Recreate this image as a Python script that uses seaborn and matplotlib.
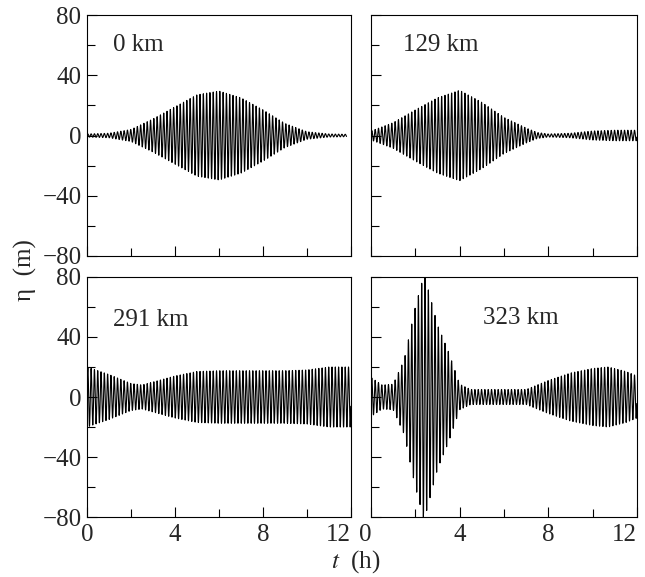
import numpy as np
import pandas as pd
import matplotlib
matplotlib.use('Agg')
import matplotlib.pyplot as plt
from matplotlib.ticker import MultipleLocator
import seaborn as sns

sns.set_style('ticks')
plt.rcParams['font.family'] = ['Liberation Serif', 'DejaVu Serif']
plt.rcParams['mathtext.fontset'] = 'stix'

# 四个站点的包络线，单位 m
labels = ['0 km', '129 km', '291 km', '323 km']

env0_t = [0, 1, 2, 3, 4, 5, 6, 7, 8, 9, 10, 11, 11.8]
env0_a = [1, 1.5, 4, 11, 19, 27, 29.5, 25, 17, 8, 2.5, 1, 0.8]

env129_t = [0, 1, 2, 3, 4, 5, 6, 7, 7.5, 8, 9, 10, 11, 12]
env129_a = [3, 8.5, 17, 25, 30, 22, 12, 5, 2, 1, 1.5, 3, 3.5, 3.5]

env291_t = [0, 1, 2, 2.5, 3, 4, 5, 6, 7, 8, 9, 10, 11, 12]
env291_a = [20, 15, 9, 8, 10, 14, 17, 17.5, 17.5, 17.5, 17.5, 18, 20, 20]

env323_t = [0, 0.5, 1, 1.5, 2, 2.4, 3, 3.5, 4, 4.5, 5, 6, 7, 7.5, 8, 9, 10, 10.7, 11.5, 12]
env323_a = [13, 8, 8.5, 25, 60, 82, 48, 30, 8.5, 5, 5, 5, 5, 8, 11, 16, 19, 20, 17, 14]

# 载波周期（读图：约 80 个周期 / 12 h）
period_h = 0.15

envelopes = [(env0_t, env0_a), (env129_t, env129_a),
             (env291_t, env291_a), (env323_t, env323_a)]

fig = plt.figure(figsize=(6.45, 5.77), dpi=100)
W, H = 645, 577
boxes = [(87, 15, 264, 241), (371, 15, 266, 241),
         (87, 277, 264, 240), (371, 277, 266, 240)]

for i, ((et, ea), lab) in enumerate(zip(envelopes, labels)):
    x0, y0, w, h = boxes[i]
    ax = fig.add_axes([x0 / W, 1 - (y0 + h) / H, w / W, h / H])

    t = np.arange(0, et[-1], period_h / 20)
    eta = np.interp(t, et, ea) * np.sin(2 * np.pi * t / period_h)
    df = pd.DataFrame({'t': t, 'eta': eta})
    sns.lineplot(data=df, x='t', y='eta', ax=ax, color='black',
                 linewidth=0.8, estimator=None, sort=False)

    ax.set_xlim(0, 12)
    ax.set_ylim(-80, 80)
    ax.xaxis.set_major_locator(MultipleLocator(4))
    ax.xaxis.set_minor_locator(MultipleLocator(2))
    ax.yaxis.set_major_locator(MultipleLocator(40))
    ax.yaxis.set_minor_locator(MultipleLocator(20))
    ax.tick_params(which='both', direction='in', top=False, right=False,
                   labelsize=18, width=0.8, color='black')
    ax.tick_params(which='major', length=7, pad=5)
    ax.tick_params(which='minor', length=6)
    ax.tick_params(axis='y', pad=4)
    ax.set_yticklabels([])
    ax.set_xlabel('')
    ax.set_ylabel('')
    for s in ax.spines.values():
        s.set_linewidth(0.8)
        s.set_color('black')

    if i in (0, 2):
        ax.set_yticks([-80, -40, 0, 40, 80])
        ax.set_yticklabels(['\u221280', '\u221240', '0', '40', '80'])
    if i in (2, 3):
        ax.set_xticks([0, 4, 8, 12])
        ax.set_xticklabels(['0', '4', '8', '12'])
        tl = ax.get_xticklabels()
        # 相邻面板的 "12" 与 "0" 错开
        tl[-1].set_horizontalalignment('right')
        if i == 3:
            tl[0].set_horizontalalignment('right')
    else:
        ax.set_xticklabels([])

    pos = {0: (0.10, 0.875), 1: (0.12, 0.875), 2: (0.10, 0.82), 3: (0.42, 0.83)}[i]
    ax.text(pos[0], pos[1], lab, transform=ax.transAxes, fontsize=18,
            va='center', ha='left')

fig.text(0.552, 0.003, r'$\mathit{t}$  (h)', fontsize=18, ha='center', va='bottom')
fig.text(0.039, 0.532, '\u03b7  (m)', fontsize=18, ha='center', va='center',
         rotation=90)

plt.savefig('out.png', dpi=100, facecolor='white')
